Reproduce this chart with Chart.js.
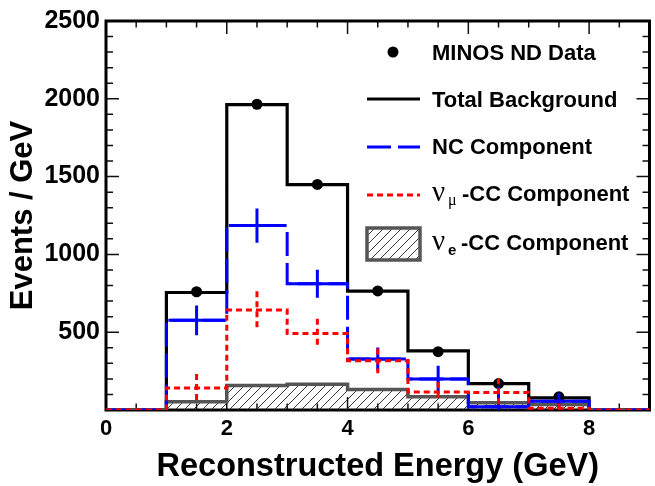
<!DOCTYPE html>
<html><head><meta charset="utf-8">
<script src="https://cdn.jsdelivr.net/npm/chart.js@4.4.0/dist/chart.umd.min.js"></script>
<style>html,body{margin:0;padding:0;background:#fff;overflow:hidden;}</style>
</head><body>
<canvas id="c" width="655" height="486"></canvas>
<script>
// ---- data ----
const binEdges   = [0, 1, 2, 3, 4, 5, 6, 7, 8, 9];
const binCenters = [0.5, 1.5, 2.5, 3.5, 4.5, 5.5, 6.5, 7.5, 8.5];
const totalBkg   = [0, 755, 1962, 1449, 764, 380, 170, 78, 0];
const dataX      = [1.5, 2.5, 3.5, 4.5, 5.5, 6.5, 7.5];
const dataY      = [760, 1965, 1450, 765, 375, 170, 85];
const ncComp     = [0, 576, 1185, 812, 327, 199, 21, 57, 0];
const ncErr      = [0, 95, 110, 90, 75, 85, 130, 50, 0];
const numuComp   = [0, 141, 643, 492, 316, 115, 112, 11, 0];
const numuErr    = [0, 90, 120, 95, 80, 65, 92, 30, 0];
const nueComp    = [0, 53, 158, 165, 131, 85, 46, 36, 0];
const xTickValues = [0, 2, 4, 6, 8];
const xTickLabels = ['0', '2', '4', '6', '8'];
const yTickValues = [0, 500, 1000, 1500, 2000, 2500];
const yTickLabels = ['', '500', '1000', '1500', '2000', '2500'];
const legendLabels = ['MINOS ND Data', 'Total Background', 'NC Component', '-CC Component', '-CC Component'];
const xTitle = 'Reconstructed Energy (GeV)';
const yTitle = 'Events / GeV';

function histPoints(vals) {
  const pts = vals.map((v, i) => ({x: binEdges[i], y: v}));
  pts.push({x: binEdges[vals.length], y: vals[vals.length - 1]});
  return pts;
}

const canvas = document.getElementById('c');
const mainCtx = canvas.getContext('2d');
function makeHatch() {
  const s = 9;
  const c = document.createElement('canvas');
  c.width = s; c.height = s;
  const g = c.getContext('2d');
  g.strokeStyle = '#222';
  g.lineWidth = 0.9;
  g.beginPath();
  g.moveTo(0, s); g.lineTo(s, 0);
  g.moveTo(-2, 2); g.lineTo(2, -2);
  g.moveTo(s - 2, s + 2); g.lineTo(s + 2, s - 2);
  g.stroke();
  return mainCtx.createPattern(c, 'repeat');
}
const hatch = makeHatch();

const FONT = 'Liberation Sans, Arial, sans-serif';

// ---- frame & ticks ----
const framePlugin = {
  id: 'frame',
  beforeDatasetsDraw(chart) {
    const {ctx, chartArea: a, scales: {x, y}} = chart;
    ctx.save();
    ctx.strokeStyle = '#111';
    ctx.lineWidth = 1.5;
    ctx.beginPath();
    for (let v = 0; v <= 9.001; v += 0.5) {
      const px = x.getPixelForValue(v);
      const len = (Math.abs(v % 2) < 1e-6) ? 13 : 6.5;
      ctx.moveTo(px, a.bottom); ctx.lineTo(px, a.bottom - len);
      ctx.moveTo(px, a.top); ctx.lineTo(px, a.top + len);
    }
    for (let v = 0; v <= 2500; v += 100) {
      const py = y.getPixelForValue(v);
      const len = (v % 500 === 0) ? 13 : 7;
      ctx.moveTo(a.left, py); ctx.lineTo(a.left + len, py);
      ctx.moveTo(a.right, py); ctx.lineTo(a.right - len, py);
    }
    ctx.stroke();
    ctx.strokeStyle = '#000';
    ctx.lineWidth = 3;
    ctx.strokeRect(a.left, a.top, a.right - a.left, a.bottom - a.top);
    ctx.restore();
  }
};

// ---- error crosses ----
const errPlugin = {
  id: 'errs',
  afterDatasetDraw(chart, args) {
    const ds = chart.data.datasets[args.index];
    if (!ds.errVals) return;
    const {ctx, chartArea: a, scales: {x, y}} = chart;
    ctx.save();
    ctx.beginPath();
    ctx.rect(a.left, a.top, a.right - a.left, a.bottom - a.top);
    ctx.clip();
    ctx.strokeStyle = ds.borderColor;
    ctx.lineWidth = ds.borderWidth;
    ctx.setLineDash(ds.errDash || []);
    ds.errVals.forEach((v, i) => {
      const e = ds.errSizes[i];
      if (!e) return;
      const cx = x.getPixelForValue(binCenters[i]);
      ctx.beginPath();
      ctx.moveTo(cx, y.getPixelForValue(v + e));
      ctx.lineTo(cx, y.getPixelForValue(v - e));
      if (ds.errHoriz) {
        const yv = y.getPixelForValue(v);
        ctx.moveTo(x.getPixelForValue(binEdges[i]) + 2, yv);
        ctx.lineTo(x.getPixelForValue(binEdges[i + 1]) - 2, yv);
      }
      ctx.stroke();
    });
    ctx.restore();
  }
};

// ---- legend ----
const legendPlugin = {
  id: 'customLegend',
  afterDraw(chart) {
    const ctx = chart.ctx;
    ctx.save();
    const tx = 432;
    const rows = [60, 107, 154, 201, 250];
    ctx.fillStyle = '#000';
    ctx.beginPath(); ctx.arc(393, 52, 5.5, 0, Math.PI * 2); ctx.fill();
    ctx.lineWidth = 3;
    ctx.strokeStyle = '#000';
    ctx.beginPath(); ctx.moveTo(367, 99); ctx.lineTo(420, 99); ctx.stroke();
    ctx.strokeStyle = '#0000ff';
    ctx.setLineDash([24, 7]);
    ctx.beginPath(); ctx.moveTo(367, 147); ctx.lineTo(420, 147); ctx.stroke();
    ctx.strokeStyle = '#ff0000';
    ctx.setLineDash([6, 4]);
    ctx.beginPath(); ctx.moveTo(367, 195); ctx.lineTo(420, 195); ctx.stroke();
    ctx.setLineDash([]);
    ctx.fillStyle = '#fff';
    ctx.fillRect(367, 228, 53, 32);
    ctx.fillStyle = hatch;
    ctx.fillRect(367, 228, 53, 32);
    ctx.strokeStyle = '#555';
    ctx.lineWidth = 3.5;
    ctx.strokeRect(367, 228, 53, 32);

    ctx.fillStyle = '#000';
    ctx.textBaseline = 'alphabetic';
    ctx.textAlign = 'left';
    ctx.font = 'bold 22px ' + FONT;
    ctx.fillText(legendLabels[0], tx, rows[0]);
    ctx.fillText(legendLabels[1], tx, rows[1]);
    ctx.fillText(legendLabels[2], tx, rows[2]);
    // nu_mu
    ctx.font = '29px Liberation Serif, serif';
    ctx.fillText('\u03BD', tx, rows[3]);
    ctx.font = '16px Liberation Serif, serif';
    ctx.fillText('\u03BC', tx + 16, rows[3] + 4);
    ctx.font = 'bold 22px ' + FONT;
    ctx.fillText(legendLabels[3], tx + 30, rows[3]);
    // nu_e
    ctx.font = '29px Liberation Serif, serif';
    ctx.fillText('\u03BD', tx, rows[4]);
    ctx.font = 'bold 15px ' + FONT;
    ctx.fillText('e', tx + 16, rows[4] + 5);
    ctx.font = 'bold 22px ' + FONT;
    ctx.fillText(legendLabels[4], tx + 29, rows[4]);
    ctx.restore();
  }
};

const chart = new Chart(canvas, {
  type: 'line',
  data: {
    datasets: [
      {
        label: 'numu', data: histPoints(numuComp), stepped: 'before',
        borderColor: '#ff0000', borderWidth: 3, borderDash: [6, 4],
        pointRadius: 0, fill: false, order: 0,
        errVals: numuComp, errSizes: numuErr, errDash: [6, 4], errHoriz: false
      },
      {
        label: 'NC', data: histPoints(ncComp), stepped: 'before',
        borderColor: '#0000ff', borderWidth: 3, borderDash: [24, 7],
        pointRadius: 0, fill: false, order: 1,
        errVals: ncComp, errSizes: ncErr, errDash: [], errHoriz: true
      },
      {
        label: 'nue', data: histPoints(nueComp), stepped: 'before',
        borderColor: '#555555', borderWidth: 3.5, backgroundColor: hatch,
        pointRadius: 0, fill: 'origin', order: 2
      },
      {
        label: 'Data', type: 'scatter', data: dataX.map((x, i) => ({x: x, y: dataY[i]})),
        showLine: false, pointRadius: 5.5, pointBackgroundColor: '#000',
        pointBorderColor: '#000', pointBorderWidth: 0, order: 3
      },
      {
        label: 'Total', data: histPoints(totalBkg), stepped: 'before',
        borderColor: '#000', borderWidth: 3.2,
        pointRadius: 0, fill: false, order: 4
      }
    ]
  },
  options: {
    responsive: false,
    animation: false,
    devicePixelRatio: 1,
    events: [],
    layout: {padding: {top: 15, right: 0, left: 0, bottom: 0}},
    plugins: {legend: {display: false}, tooltip: {enabled: false}},
    scales: {
      x: {
        type: 'linear', min: 0, max: 9,
        grid: {display: false, drawTicks: false},
        border: {display: false},
        afterBuildTicks: (s) => { s.ticks = xTickValues.map(v => ({value: v})); },
        ticks: {
          autoSkip: false, maxRotation: 0, padding: 6, color: '#000',
          font: {family: FONT, weight: 'bold', size: 22},
          callback: (v) => { const i = xTickValues.indexOf(v); return i >= 0 ? xTickLabels[i] : ''; }
        },
        title: {
          display: true, text: xTitle, color: '#000',
          font: {family: FONT, weight: 'bold', size: 32.5, lineHeight: 1},
          padding: {top: 0, bottom: 3}
        },
        afterFit: (s) => { s.height = 76; }
      },
      y: {
        min: 0, max: 2500,
        grid: {display: false, drawTicks: false},
        border: {display: false},
        afterBuildTicks: (s) => { s.ticks = yTickValues.map(v => ({value: v})); },
        ticks: {
          padding: 6, color: '#000',
          font: {family: FONT, weight: 'bold', size: 25},
          callback: (v) => { const i = yTickValues.indexOf(v); return i >= 0 ? yTickLabels[i] : ''; }
        },
        title: {
          display: true, text: yTitle, color: '#000',
          font: {family: FONT, weight: 'bold', size: 31, lineHeight: 1},
          padding: {top: 8, bottom: 0}
        },
        afterFit: (s) => { s.width = 106; }
      }
    }
  },
  plugins: [framePlugin, errPlugin, legendPlugin]
});
</script>
</body></html>
